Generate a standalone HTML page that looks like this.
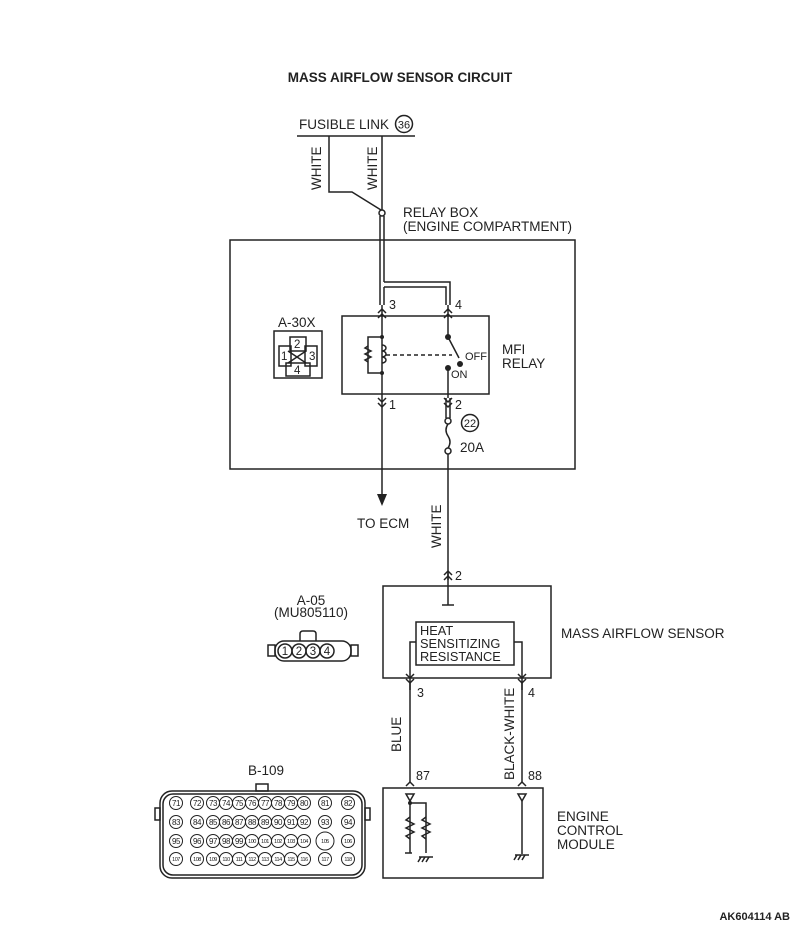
<!DOCTYPE html>
<html><head><meta charset="utf-8"><style>
html,body{margin:0;padding:0;background:#fff;}
svg{display:block;font-family:"Liberation Sans",sans-serif;}
</style></head><body>
<svg width="800" height="929" viewBox="0 0 800 929" xmlns="http://www.w3.org/2000/svg">
<g fill="none" stroke="#222" stroke-width="1.5">
<line x1="297" y1="136" x2="415" y2="136"/>
<polyline points="329,136 329,192 352,192 381,210"/>
<line x1="382" y1="136" x2="382" y2="210"/>
<circle cx="382" cy="213" r="3" fill="#fff"/>
<circle cx="404" cy="124" r="8.5"/>
<line x1="380" y1="216" x2="380" y2="305"/>
<line x1="384" y1="216" x2="384" y2="282"/>
<polyline points="384,287 446,287 446,305"/>
<polyline points="384,282 450,282 450,305"/>
<line x1="384" y1="287" x2="384" y2="305"/>
<rect x="230" y="240" width="345" height="229"/>
<rect x="342" y="316" width="147" height="78"/>
<line x1="382" y1="305" x2="382" y2="394"/>
<polyline points="378,313 382,309 386,313"/><polyline points="378,318 382,314 386,318"/>
<line x1="448" y1="305" x2="448" y2="337"/>
<polyline points="444,313 448,309 452,313"/><polyline points="444,318 448,314 452,318"/>
<polyline points="382,337 368,337 368,373 382,373"/>
<polyline points="368,346 365,348 371,351 365,354 371,357 365,360 368,362"/>
<path d="M382,345 a4,3 0 1 1 0,6 a4,3 0 1 1 0,6 a4,3 0 1 1 0,6"/>
<line x1="386" y1="355" x2="452" y2="355" stroke-dasharray="4,3"/>
<line x1="448" y1="337" x2="459" y2="358"/>
<line x1="448" y1="368" x2="448" y2="398"/>
<polyline points="378,398 382,402 386,398"/><polyline points="378,403 382,407 386,403"/>
<line x1="382" y1="394" x2="382" y2="494"/>
<polyline points="444,398 448,402 452,398"/><polyline points="444,403 448,407 452,403"/>
<line x1="446" y1="398" x2="446" y2="418"/><line x1="450" y1="398" x2="450" y2="418"/>
<circle cx="448" cy="421" r="3" fill="#fff"/>
<path d="M448,424 q-4,6 0,12 q4,6 0,12"/>
<circle cx="448" cy="451" r="3" fill="#fff"/>
<line x1="448" y1="454" x2="448" y2="580"/>
<circle cx="470" cy="423" r="8.5"/>
<rect x="274" y="331" width="48" height="47"/>
<rect x="279" y="346" width="12" height="20"/>
<rect x="305" y="346" width="12" height="20"/>
<rect x="290" y="337" width="16" height="14"/>
<rect x="286" y="363" width="24" height="13"/>
<line x1="288" y1="351" x2="306" y2="363"/><line x1="306" y1="351" x2="288" y2="363"/>
<rect x="383" y="586" width="168" height="92"/>
<rect x="416" y="622" width="98" height="43"/>
<polyline points="444,575 448,571 452,575"/><polyline points="444,580 448,576 452,580"/>
<line x1="448" y1="571" x2="448" y2="605"/><line x1="442" y1="605" x2="454" y2="605"/>
<polyline points="416,642 410,642 410,690"/>
<polyline points="514,642 522,642 522,690"/>
<polyline points="406,674 410,678 414,674"/><polyline points="406,679 410,683 414,679"/>
<polyline points="518,674 522,678 526,674"/><polyline points="518,679 522,683 526,679"/>
<line x1="410" y1="683" x2="410" y2="782"/>
<line x1="522" y1="683" x2="522" y2="782"/>
<polyline points="406,786 410,782 414,786"/>
<polyline points="518,786 522,782 526,786"/>
<rect x="383" y="788" width="160" height="90"/>
<polygon points="406,794 414,794 410,801"/>
<polygon points="518,794 526,794 522,801"/>
<line x1="410" y1="801" x2="410" y2="853"/>
<polyline points="410,803 426,803 426,853"/>
<polyline points="410,817 406,820 414,824 406,828 414,832 406,836 410,839"/>
<polyline points="426,817 422,820 430,824 422,828 430,832 422,836 426,839"/>
<line x1="405" y1="853" x2="412" y2="853"/>
<line x1="419" y1="857" x2="433" y2="857"/>
<line x1="421" y1="857" x2="418" y2="862"/><line x1="425" y1="857" x2="422" y2="862"/><line x1="429" y1="857" x2="426" y2="862"/>
<line x1="522" y1="801" x2="522" y2="854"/>
<line x1="515" y1="855" x2="529" y2="855"/>
<line x1="517" y1="855" x2="514" y2="860"/><line x1="521" y1="855" x2="518" y2="860"/><line x1="525" y1="855" x2="522" y2="860"/>
<rect x="275" y="641" width="76" height="20" rx="9"/>
<rect x="268" y="645" width="7" height="11"/>
<rect x="351" y="645" width="7" height="11"/>
<path d="M300,641 v-7 q0,-3 3,-3 h10 q3,0 3,3 v7"/>
<circle cx="285" cy="651" r="7"/><circle cx="299" cy="651" r="7"/><circle cx="313" cy="651" r="7"/><circle cx="327" cy="651" r="7"/>
<rect x="160" y="791" width="205" height="87" rx="12"/>
<rect x="163" y="794" width="199" height="81" rx="10"/>
<rect x="256" y="784" width="12" height="7"/>
<rect x="155" y="808" width="5" height="12"/>
<rect x="365" y="808" width="5" height="12"/>
</g>
<polygon points="377,494 387,494 382,506" fill="#222"/>
<circle cx="382" cy="337" r="2" fill="#222"/><circle cx="382" cy="373" r="2" fill="#222"/>
<circle cx="448" cy="337" r="3" fill="#222"/><circle cx="448" cy="368" r="3" fill="#222"/>
<circle cx="460" cy="364" r="3" fill="#222"/>
<circle cx="410" cy="803" r="2" fill="#222"/>
<g fill="#222" font-size="13.5">
<text x="400" y="82" text-anchor="middle" font-weight="bold" font-size="13.5">MASS AIRFLOW SENSOR CIRCUIT</text>
<text x="299" y="129">FUSIBLE LINK</text>
<text x="404" y="128.5" text-anchor="middle" font-size="11">36</text>
<text transform="translate(321,190) rotate(-90)">WHITE</text>
<text transform="translate(377,190) rotate(-90)">WHITE</text>
<text x="403" y="217">RELAY BOX</text>
<text x="403" y="231">(ENGINE COMPARTMENT)</text>
<text x="389" y="309" font-size="12.5">3</text>
<text x="455" y="309" font-size="12.5">4</text>
<text x="389" y="409" font-size="12.5">1</text>
<text x="455" y="409" font-size="12.5">2</text>
<text x="502" y="354">MFI</text>
<text x="502" y="368">RELAY</text>
<text x="465" y="360" font-size="11">OFF</text>
<text x="451" y="378" font-size="11">ON</text>
<text x="470" y="427" text-anchor="middle" font-size="11">22</text>
<text x="460" y="452">20A</text>
<text x="278" y="327">A-30X</text>
<text x="294" y="348" font-size="11.5">2</text>
<text x="281" y="360" font-size="11.5">1</text>
<text x="309" y="360" font-size="11.5">3</text>
<text x="294" y="374" font-size="11.5">4</text>
<text x="357" y="528">TO ECM</text>
<text transform="translate(441,548) rotate(-90)">WHITE</text>
<text x="455" y="580" font-size="12.5">2</text>
<g font-size="12.8"><text x="420" y="635">HEAT</text>
<text x="420" y="648">SENSITIZING</text>
<text x="420" y="661">RESISTANCE</text></g>
<text x="561" y="638">MASS AIRFLOW SENSOR</text>
<text x="311" y="605" text-anchor="middle">A-05</text>
<text x="311" y="617" text-anchor="middle">(MU805110)</text>
<g font-size="11.5" text-anchor="middle"><text x="285" y="655">1</text><text x="299" y="655">2</text><text x="313" y="655">3</text><text x="327" y="655">4</text></g>
<text x="417" y="697" font-size="12.5">3</text>
<text x="528" y="697" font-size="12.5">4</text>
<text transform="translate(401,752) rotate(-90)">BLUE</text>
<text transform="translate(514,780) rotate(-90)">BLACK-WHITE</text>
<text x="416" y="780" font-size="12.5">87</text>
<text x="528" y="780" font-size="12.5">88</text>
<text x="557" y="821">ENGINE</text>
<text x="557" y="835">CONTROL</text>
<text x="557" y="849">MODULE</text>
<text x="248" y="775">B-109</text>
<text x="790" y="920" text-anchor="end" font-weight="bold" font-size="11">AK604114 AB</text>
</g>
<g fill="none" stroke="#222" stroke-width="1">
<circle cx="176" cy="803" r="6.5"/><circle cx="197" cy="803" r="6.5"/><circle cx="213" cy="803" r="6.5"/><circle cx="226" cy="803" r="6.5"/><circle cx="239" cy="803" r="6.5"/><circle cx="252" cy="803" r="6.5"/><circle cx="265" cy="803" r="6.5"/><circle cx="278" cy="803" r="6.5"/><circle cx="291" cy="803" r="6.5"/><circle cx="304" cy="803" r="6.5"/><circle cx="325" cy="803" r="6.5"/><circle cx="348" cy="803" r="6.5"/>
<circle cx="176" cy="822" r="6.5"/><circle cx="197" cy="822" r="6.5"/><circle cx="213" cy="822" r="6.5"/><circle cx="226" cy="822" r="6.5"/><circle cx="239" cy="822" r="6.5"/><circle cx="252" cy="822" r="6.5"/><circle cx="265" cy="822" r="6.5"/><circle cx="278" cy="822" r="6.5"/><circle cx="291" cy="822" r="6.5"/><circle cx="304" cy="822" r="6.5"/><circle cx="325" cy="822" r="6.5"/><circle cx="348" cy="822" r="6.5"/>
<circle cx="176" cy="841" r="6.5"/><circle cx="197" cy="841" r="6.5"/><circle cx="213" cy="841" r="6.5"/><circle cx="226" cy="841" r="6.5"/><circle cx="239" cy="841" r="6.5"/><circle cx="252" cy="841" r="6.5"/><circle cx="265" cy="841" r="6.5"/><circle cx="278" cy="841" r="6.5"/><circle cx="291" cy="841" r="6.5"/><circle cx="304" cy="841" r="6.5"/><circle cx="325" cy="841" r="9"/><circle cx="348" cy="841" r="6.5"/>
<circle cx="176" cy="859" r="6.5"/><circle cx="197" cy="859" r="6.5"/><circle cx="213" cy="859" r="6.5"/><circle cx="226" cy="859" r="6.5"/><circle cx="239" cy="859" r="6.5"/><circle cx="252" cy="859" r="6.5"/><circle cx="265" cy="859" r="6.5"/><circle cx="278" cy="859" r="6.5"/><circle cx="291" cy="859" r="6.5"/><circle cx="304" cy="859" r="6.5"/><circle cx="325" cy="859" r="6.5"/><circle cx="348" cy="859" r="6.5"/>
</g>
<g fill="#222" font-size="8" text-anchor="middle" letter-spacing="-0.5">
<text x="176" y="806">71</text><text x="197" y="806">72</text><text x="213" y="806">73</text><text x="226" y="806">74</text><text x="239" y="806">75</text><text x="252" y="806">76</text><text x="265" y="806">77</text><text x="278" y="806">78</text><text x="291" y="806">79</text><text x="304" y="806">80</text><text x="325" y="806">81</text><text x="348" y="806">82</text>
<text x="176" y="825">83</text><text x="197" y="825">84</text><text x="213" y="825">85</text><text x="226" y="825">86</text><text x="239" y="825">87</text><text x="252" y="825">88</text><text x="265" y="825">89</text><text x="278" y="825">90</text><text x="291" y="825">91</text><text x="304" y="825">92</text><text x="325" y="825">93</text><text x="348" y="825">94</text>
<text x="176" y="844">95</text><text x="197" y="844">96</text><text x="213" y="844">97</text><text x="226" y="844">98</text><text x="239" y="844">99</text>
<g font-size="5.5"><text x="252" y="843">100</text><text x="265" y="843">101</text><text x="278" y="843">102</text><text x="291" y="843">103</text><text x="304" y="843">104</text><text x="325" y="843">105</text><text x="348" y="843">106</text>
<text x="176" y="861">107</text><text x="197" y="861">108</text><text x="213" y="861">109</text><text x="226" y="861">110</text><text x="239" y="861">111</text><text x="252" y="861">112</text><text x="265" y="861">113</text><text x="278" y="861">114</text><text x="291" y="861">115</text><text x="304" y="861">116</text><text x="325" y="861">117</text><text x="348" y="861">118</text></g>
</g>
</svg>
</body></html>
